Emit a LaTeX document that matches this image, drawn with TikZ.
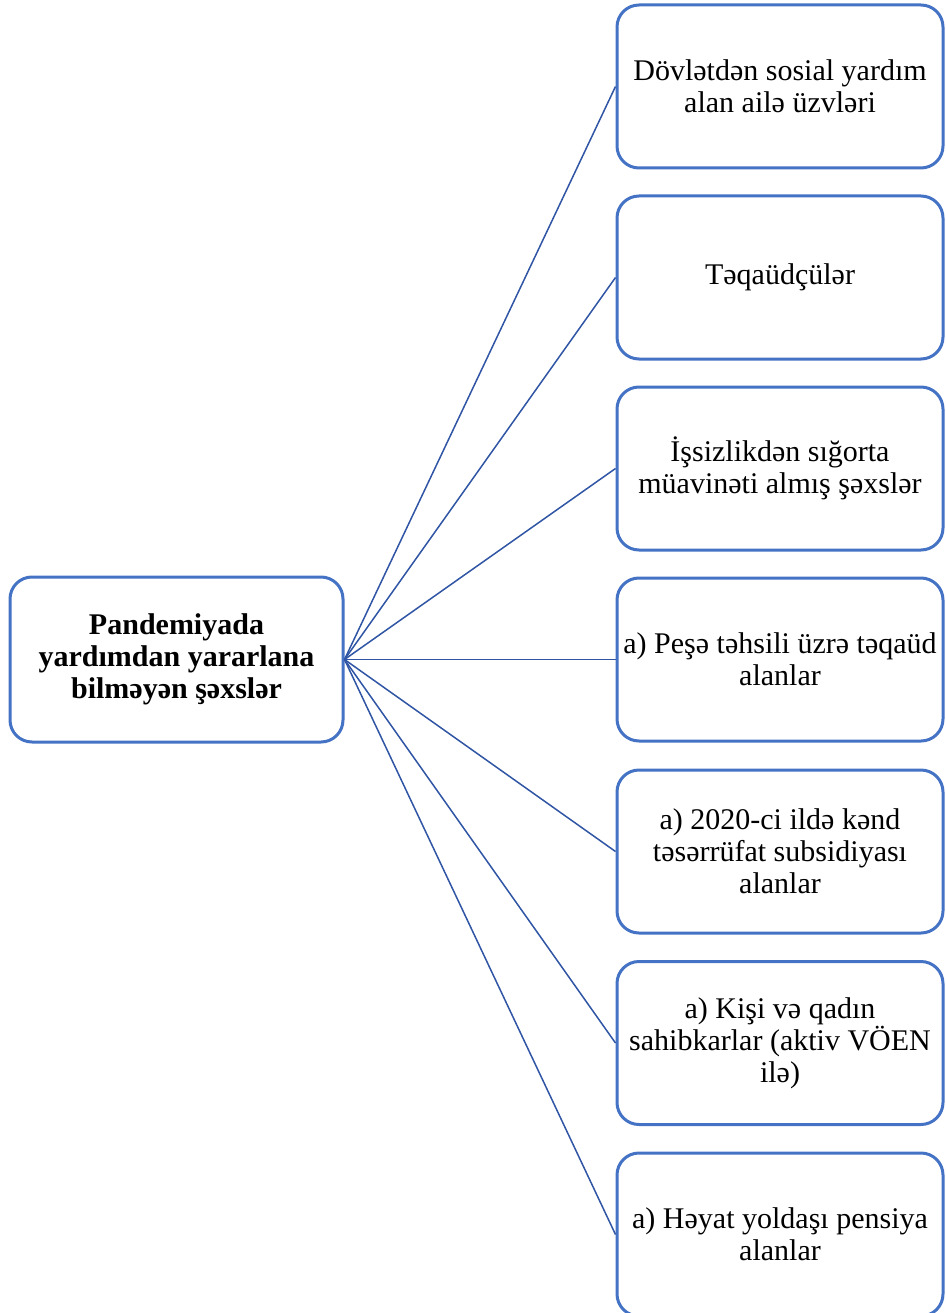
\documentclass[tikz,border=0pt]{standalone}
\usepackage{fontspec}
\setmainfont{Liberation Serif}
\definecolor{boxblue}{HTML}{4472C4}
\definecolor{lineblue}{HTML}{2F55A4}
\begin{document}
\begin{tikzpicture}[x=1pt,y=1pt,
  box/.style={draw=boxblue, line width=3pt, rounded corners=22pt, minimum width=326pt, minimum height=163pt, align=center, inner sep=0pt, font=\fontsize{30}{32}\selectfont},
  mainbox/.style={box, minimum width=333pt, minimum height=165pt, font=\fontsize{30}{32}\selectfont\bfseries},
  link/.style={draw=lineblue, line width=1.5pt}]
\useasboundingbox (0,0) rectangle (945,-1313);

\node[mainbox] (main) at (176.5,-659.5) {Pandemiyada\\yardımdan yararlana\\bilməyən şəxslər};

\node[box] (b1) at (780,-86.5) {Dövlətdən sosial yardım\\alan ailə üzvləri};
\node[box] (b2) at (780,-277.5) {Təqaüdçülər};
\node[box] (b3) at (780,-468.5) {İşsizlikdən sığorta\\müavinəti almış şəxslər};
\node[box] (b4) at (780,-659.5) {a) Peşə təhsili üzrə təqaüd\\alanlar};
\node[box] (b5) at (780,-851.5) {a) 2020-ci ildə kənd\\təsərrüfat subsidiyası\\alanlar};
\node[box] (b6) at (780,-1043) {a) Kişi və qadın\\sahibkarlar (aktiv VÖEN\\ilə)};
\node[box] (b7) at (780,-1234.5) {a) Həyat yoldaşı pensiya\\alanlar};

\draw[link] (main.east) -- (b1.west);
\draw[link] (main.east) -- (b2.west);
\draw[link] (main.east) -- (b3.west);
\draw[link] (main.east) -- (b4.west);
\draw[link] (main.east) -- (b5.west);
\draw[link] (main.east) -- (b6.west);
\draw[link] (main.east) -- (b7.west);
\end{tikzpicture}
\end{document}
